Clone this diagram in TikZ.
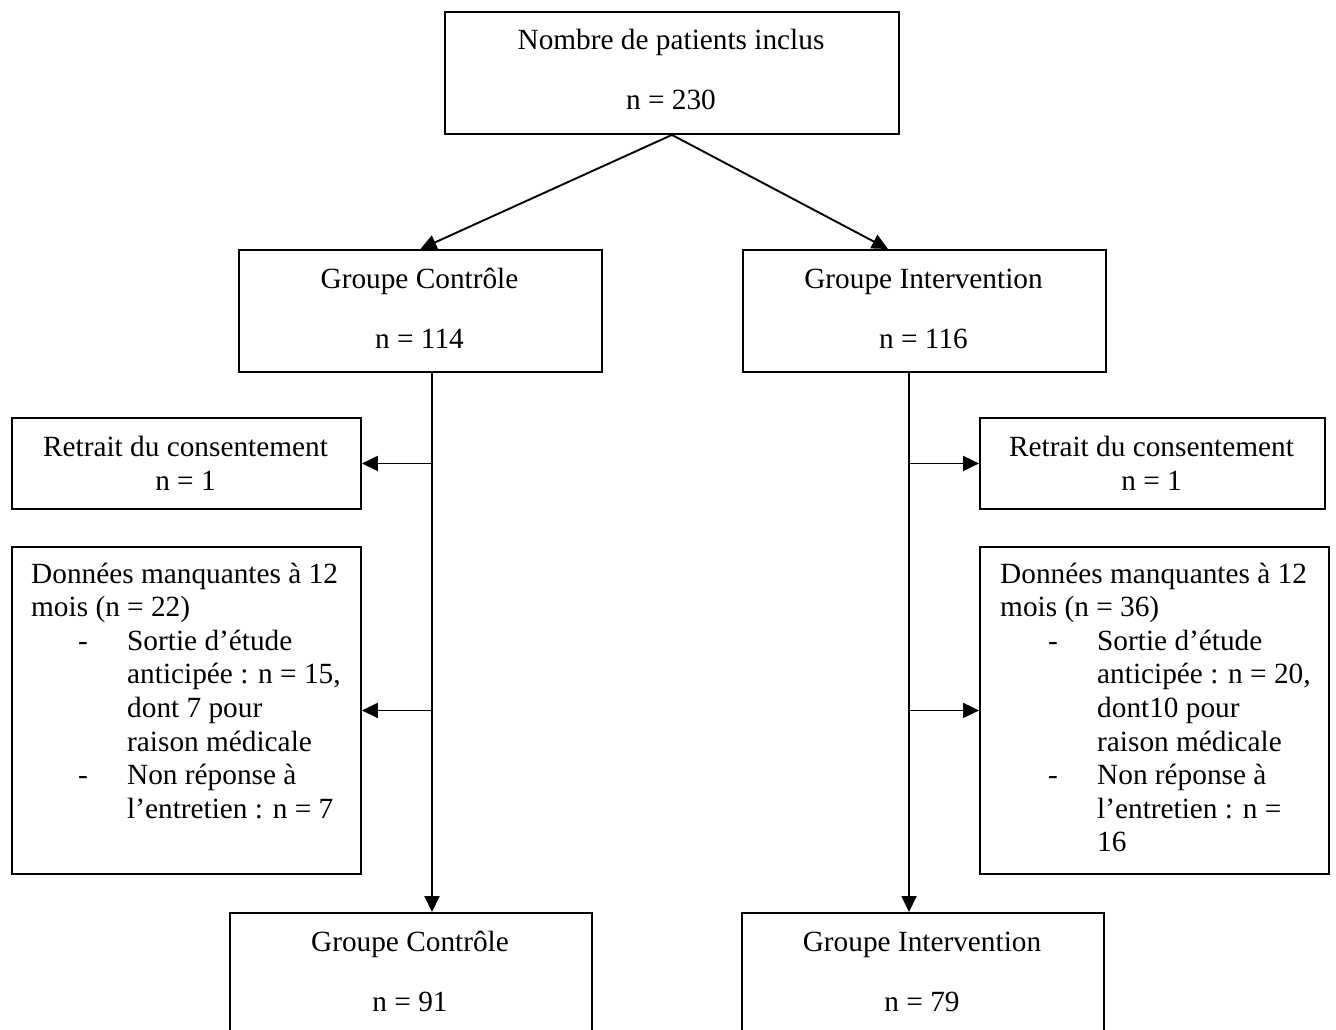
\documentclass[tikz,border=0pt]{standalone}
\usepackage{fontspec}
\setmainfont{Liberation Serif}
\usetikzlibrary{arrows.meta}
\begin{document}
\begin{tikzpicture}[x=1pt,y=-1pt,
  box/.style={draw, line width=1.9pt, inner sep=0pt, anchor=north west},
  txt/.style={font=\fontsize{29.3}{33.6}\selectfont, inner sep=0pt, anchor=base},
  ltxt/.style={font=\fontsize{29.3}{33.6}\selectfont, inner sep=0pt, anchor=base west},
  arr/.style={line width=1.9pt, -{Triangle[length=16pt,width=15pt]}}]
\useasboundingbox (0,0) rectangle (1336,1030);

% boxes
\node[box, minimum width=454pt, minimum height=122pt] (top) at (444,11) {};
\node[box, minimum width=363pt, minimum height=122pt] (ctrlA) at (238,249) {};
\node[box, minimum width=363pt, minimum height=122pt] (intA) at (742,249) {};
\node[box, minimum width=349pt, minimum height=91pt] (retA) at (11,417) {};
\node[box, minimum width=345pt, minimum height=91pt] (retB) at (979,417) {};
\node[box, minimum width=349pt, minimum height=327pt] (misA) at (11,546) {};
\node[box, minimum width=349pt, minimum height=327pt] (misB) at (979,546) {};
\node[box, minimum width=362pt, minimum height=160pt] (finA) at (229,912) {};
\node[box, minimum width=362pt, minimum height=160pt] (finB) at (741,912) {};

% texts
\node[txt] (topT1) at (671,50) {Nombre de patients inclus};
\node[txt] (topT2) at (671,110) {n = 230};
\node[txt] (ctrlT1) at (419.5,288) {Groupe Contrôle};
\node[txt] (ctrlT2) at (419.5,348) {n = 114};
\node[txt] (intT1) at (923.5,288) {Groupe Intervention};
\node[txt] (intT2) at (923.5,348) {n = 116};
\node[txt] (retAT1) at (185.5,456) {Retrait du consentement};
\node[txt] (retAT2) at (185.5,490) {n = 1};
\node[txt] (retBT1) at (1151.5,456) {Retrait du consentement};
\node[txt] (retBT2) at (1151.5,490) {n = 1};
\node[txt] (finAT1) at (410,951) {Groupe Contrôle};
\node[txt] (finAT2) at (410,1011) {n = 91};
\node[txt] (finBT1) at (922,951) {Groupe Intervention};
\node[txt] (finBT2) at (922,1011) {n = 79};

\node[ltxt] (misAT) at (31,583) {\parbox[t]{400pt}{\fontsize{29.3}{33.6}\selectfont\raggedright
Données manquantes à 12\\
mois (n = 22)\\
\hspace*{47pt}\makebox[49pt][l]{-}Sortie d’étude\\
\hspace*{96pt}anticipée : n = 15,\\
\hspace*{96pt}dont 7 pour\\
\hspace*{96pt}raison médicale\\
\hspace*{47pt}\makebox[49pt][l]{-}Non réponse à\\
\hspace*{96pt}l’entretien : n = 7}};

\node[ltxt] (misBT) at (1000,583) {\parbox[t]{400pt}{\fontsize{29.3}{33.6}\selectfont\raggedright
Données manquantes à 12\\
mois (n = 36)\\
\hspace*{48pt}\makebox[49pt][l]{-}Sortie d’étude\\
\hspace*{97pt}anticipée : n = 20,\\
\hspace*{97pt}dont10 pour\\
\hspace*{97pt}raison médicale\\
\hspace*{48pt}\makebox[49pt][l]{-}Non réponse à\\
\hspace*{97pt}l’entretien : n =\\
\hspace*{97pt}16}};

% connectors
\coordinate (vA) at (432,0);
\coordinate (vB) at (909,0);
\draw[arr] (top.south) -- (ctrlA.north);
\draw[arr] (top.south) -- ([xshift=-36.5pt]intA.north);
\draw[arr] (ctrlA.south -| vA) -- (finA.north -| vA);
\draw[arr] (intA.south -| vB) -- (finB.north -| vB);
\draw[arr] (vA |- retA.east) -- (retA.east);
\draw[arr] (vA |- misA.east) -- (misA.east);
\draw[arr] (vB |- retB.west) -- (retB.west);
\draw[arr] (vB |- misB.west) -- (misB.west);
\end{tikzpicture}
\end{document}
